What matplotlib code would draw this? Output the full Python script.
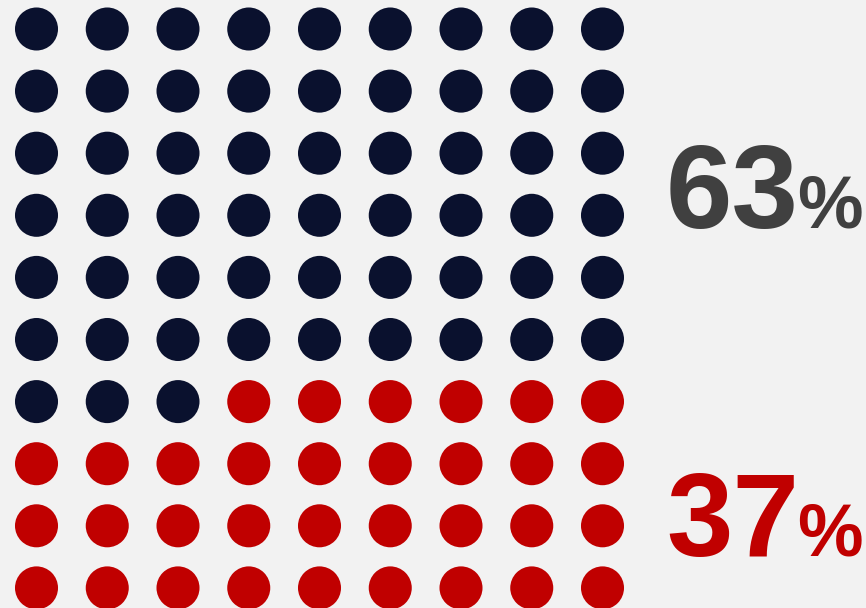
import matplotlib
matplotlib.use("Agg")
import matplotlib.pyplot as plt
import numpy as np

n_cols = 9
n_rows = 10
dark_count = 57
red_count = 33
pct_labels = ["63", "37"]
pct_colors = ["#404040", "#c00000"]
dot_colors = ["#0a112e", "#c00000"]
bg = "#f2f2f2"

fig = plt.figure(figsize=(8.66, 6.08), dpi=100, facecolor=bg)
ax = fig.add_axes([0, 0, 1, 1], facecolor=bg)

idx = np.arange(dark_count + red_count)
cols = idx % n_cols
rows = idx // n_cols
colors = [dot_colors[0] if i < dark_count else dot_colors[1] for i in idx]
ax.scatter(cols, rows, s=960, c=colors, linewidths=0)

sx, sy = 70.75, 62.1
ax.set_xlim(-36.5 / sx, (866 - 36.5) / sx)
ax.set_ylim((608 - 29) / sy, -29 / sy)
ax.axis("off")

font = "Liberation Sans"
# 63%
fig.text(666 / 866, 1 - 228 / 608, pct_labels[0], fontsize=86, fontweight="bold",
         color=pct_colors[0], family=font, ha="left", va="baseline")
fig.text(797 / 866, 1 - 228 / 608, "%", fontsize=53, fontweight="bold",
         color=pct_colors[0], family=font, ha="left", va="baseline")
# 37%
fig.text(666 / 866, 1 - 556 / 608, pct_labels[1], fontsize=86, fontweight="bold",
         color=pct_colors[1], family=font, ha="left", va="baseline")
fig.text(797 / 866, 1 - 556 / 608, "%", fontsize=53, fontweight="bold",
         color=pct_colors[1], family=font, ha="left", va="baseline")

fig.savefig("out.png", dpi=100, facecolor=bg)
